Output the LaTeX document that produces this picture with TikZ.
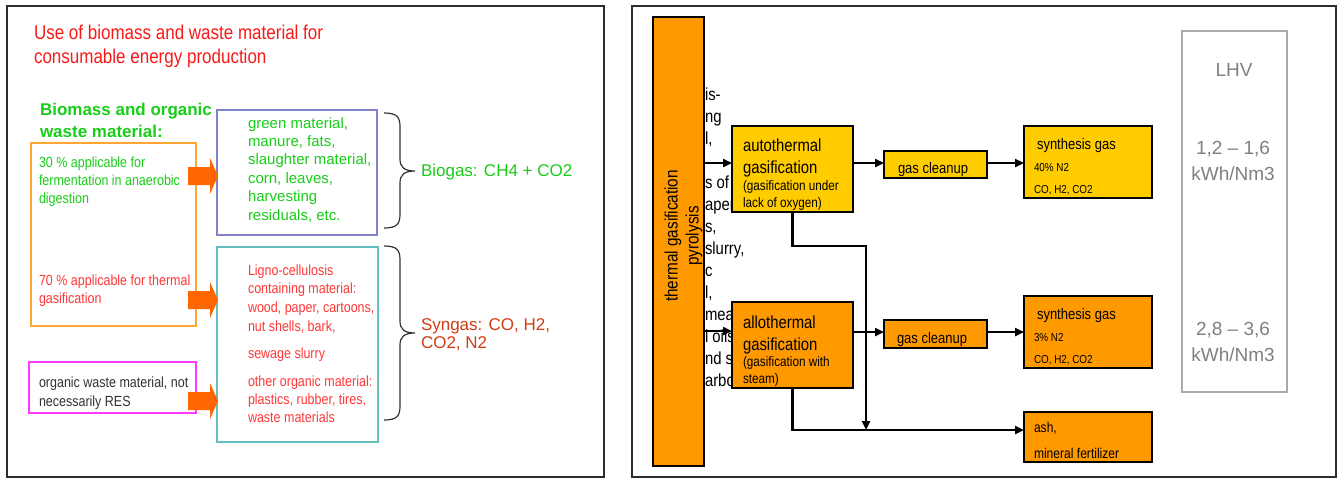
\documentclass[tikz,border=0pt]{standalone}
\usepackage{fontspec}
\setmainfont{Liberation Sans}
\newfontfamily\nar{Liberation Sans}[FakeStretch=0.85]
\usetikzlibrary{arrows.meta}
\newcommand\mlines[1]{\begin{tabular}[t]{@{}l@{}}#1\end{tabular}}
\newcommand\clines[1]{\begin{tabular}[t]{@{}c@{}}#1\end{tabular}}
\newcommand\fs[2]{\fontsize{#1}{#2}\selectfont}
\definecolor{titlered}{RGB}{250,25,25}
\definecolor{bgreen}{RGB}{25,205,25}
\definecolor{lred}{RGB}{255,55,55}
\definecolor{synred}{RGB}{210,60,20}
\definecolor{dgray}{RGB}{50,50,50}
\definecolor{obord}{RGB}{255,165,50}
\definecolor{bbord}{RGB}{130,130,200}
\definecolor{tbord}{RGB}{100,190,190}
\definecolor{pbord}{RGB}{255,60,255}
\definecolor{arrfill}{RGB}{255,102,0}
\definecolor{barorange}{RGB}{255,153,0}
\definecolor{baryellow}{RGB}{255,204,0}
\definecolor{lhvbord}{RGB}{170,170,170}
\definecolor{lhvtext}{RGB}{128,128,128}
\definecolor{framec}{RGB}{45,45,45}
\newcommand\blockarrow[1]{\fill[arrfill] (188,#1-9) -- (210,#1-9) -- (210,#1-18) -- (218,#1) -- (210,#1+18) -- (210,#1+9) -- (188,#1+9) -- cycle;}
\newcommand\bracepath[3]{\draw[bracestyle] (384,#1) .. controls (397,#1) and (400,#1+4) .. (400,#1+14) -- (400,#3-12) .. controls (400,#3-4) and (404,#3) .. (415,#3) .. controls (404,#3) and (400,#3+4) .. (400,#3+12) -- (400,#2-14) .. controls (400,#2-4) and (397,#2) .. (384,#2);}
\begin{document}
\begin{tikzpicture}[x=1pt,y=-1pt,
  txt/.style={anchor=base west, inner sep=0pt, outer sep=0pt},
  box/.style={anchor=north west, inner sep=0pt, outer sep=0pt, draw, line width=1.2pt},
  frame/.style={anchor=north west, inner sep=0pt, outer sep=0pt, draw=framec, line width=1.8pt},
  flow/.style={box, draw=black, line width=1.4pt},
  arr/.style={line width=2.4pt, -{Triangle[length=9pt,width=8pt]}},
  bracestyle/.style={draw=dgray, line width=1.2pt}]
\useasboundingbox (0,0) rectangle (1341,479);
\fill[white] (0,0) rectangle (1341,479);
% ---------- left panel ----------
\node[frame, minimum width=597pt, minimum height=471pt] (lframe) at (7,6) {};
\node[txt, font=\nar\fs{20}{24}, text=titlered] (title) at (34,39.6) {\mlines{Use of biomass and waste material for\\consumable energy production}};
\node[txt, font=\bfseries\fs{17}{22}, text=bgreen] (head) at (40,115.6) {\mlines{Biomass and organic\\waste material:}};
\node[box, draw=obord, minimum width=165pt, minimum height=183pt] (obox) at (31,143) {};
\node[box, draw=bbord, minimum width=160pt, minimum height=125pt] (bbox) at (217,110) {};
\node[box, draw=tbord, minimum width=161pt, minimum height=195pt] (tbox) at (217,247) {};
\node[box, draw=pbord, minimum width=167pt, minimum height=51pt] (pbox) at (29,362) {};
\node[txt, font=\nar\fs{14.7}{18}, text=bgreen] (t30) at (39,167) {\mlines{30 \% applicable for\\fermentation in anaerobic\\digestion}};
\node[txt, font=\nar\fs{14.7}{18}, text=lred] (t70) at (39,285) {\mlines{70 \% applicable for thermal\\gasification}};
\node[txt, font=\nar\fs{14.7}{19}, text=dgray] (tpink) at (39,387) {\mlines{organic waste material, not\\necessarily RES}};
\node[txt, font=\fs{15}{18.4}, text=bgreen] (tblue) at (248,128) {\mlines{green material,\\manure, fats,\\slaughter material,\\corn, leaves,\\harvesting\\residuals, etc.}};
\node[txt, font=\nar\fs{14.7}{18.7}, text=lred] (tl1) at (248,275) {\mlines{Ligno-cellulosis\\containing material:\\wood, paper, cartoons,\\nut shells, bark,}};
\node[txt, font=\nar\fs{14.7}{18}, text=lred] (tl2) at (248,358) {sewage slurry};
\node[txt, font=\nar\fs{14.7}{18}, text=lred] (tl3) at (248,386) {\mlines{other organic material:\\plastics, rubber, tires,\\waste materials}};
\blockarrow{176}
\blockarrow{300}
\blockarrow{401}
\bracepath{113}{228}{171}
\bracepath{246}{420}{333}
\node[txt, font=\fs{17}{20}, text=bgreen] (biogas) at (421,176.6) {Biogas: CH4 + CO2};
\node[txt, font=\fs{17}{18.5}, text=synred] (syngas) at (421,330) {\mlines{Syngas: CO, H2,\\CO2, N2}};
% ---------- right panel ----------
\node[frame, minimum width=704pt, minimum height=471pt] (rframe) at (632,6) {};
\node[txt, font=\nar\fs{17.5}{22}, text=black] (frag) at (705,100.8) {\mlines{is-\\ng\\l,\\ \\s of\\aper\\s,\\slurry,\\c\\l,\\mea\\l oils\\nd s\\arbo}};
\node[flow, fill=barorange, minimum width=51pt, minimum height=449pt] (bar) at (653,17) {};
\node[font=\nar\fs{18}{21}, rotate=90, align=center, inner sep=0pt] (bartxt) at (683.5,236) {thermal gasification\\pyrolysis};
\node[flow, fill=baryellow, minimum width=121pt, minimum height=86pt] (auto) at (732,126) {};
\node[flow, fill=barorange, minimum width=121pt, minimum height=86pt] (allo) at (732,302) {};
\node[flow, fill=baryellow, minimum width=103pt, minimum height=27pt] (clean1) at (884,151) {};
\node[flow, fill=barorange, minimum width=103pt, minimum height=28pt] (clean2) at (884,320) {};
\node[flow, fill=baryellow, minimum width=128pt, minimum height=72pt] (syn1) at (1024,126) {};
\node[flow, fill=barorange, minimum width=128pt, minimum height=72pt] (syn2) at (1024,296) {};
\node[flow, fill=barorange, minimum width=128pt, minimum height=50pt] (ash) at (1024,412) {};
\node[box, draw=lhvbord, minimum width=105pt, minimum height=361pt] (lhvbox) at (1182,31) {};
% texts in flow boxes
\node[txt, font=\nar\fs{17.5}{22}] (autot) at (743,151) {\mlines{autothermal\\gasification}};
\node[txt, font=\nar\fs{13.8}{17}] (autos) at (743,190.6) {\mlines{(gasification under\\lack of oxygen)}};
\node[txt, font=\nar\fs{17.5}{22}] (allot) at (743,328) {\mlines{allothermal\\gasification}};
\node[txt, font=\nar\fs{13.8}{17}] (allos) at (743,366.6) {\mlines{(gasification with\\steam)}};
\node[txt, font=\nar\fs{15.3}{18}] (c1t) at (898,173) {gas cleanup};
\node[txt, font=\nar\fs{15.3}{18}] (c2t) at (897,343) {gas cleanup};
\node[txt, font=\nar\fs{15.3}{18}] (s1a) at (1037,149) {synthesis gas};
\node[txt, font=\nar\fs{11.6}{22}] (s1b) at (1034,171) {\mlines{40\% N2\\CO, H2, CO2}};
\node[txt, font=\nar\fs{15.3}{18}] (s2a) at (1037,319) {synthesis gas};
\node[txt, font=\nar\fs{11.6}{22}] (s2b) at (1034,341) {\mlines{3\% N2\\CO, H2, CO2}};
\node[txt, font=\nar\fs{14.2}{26}] (asht) at (1034,432) {\mlines{ash,\\mineral fertilizer}};
\node[anchor=base, inner sep=0pt, font=\fs{19}{22}, text=lhvtext] (lhv) at (1234,76) {LHV};
\node[anchor=base, inner sep=0pt, font=\fs{19}{26}, text=lhvtext] (v1) at (1233,154.5) {\clines{1,2 – 1,6\\kWh/Nm3}};
\node[anchor=base, inner sep=0pt, font=\fs{19}{26}, text=lhvtext] (v2) at (1233,335.5) {\clines{2,8 – 3,6\\kWh/Nm3}};
% connectors
\draw[arr] (bar.east |- 0,163) -- (auto.west |- 0,163);
\draw[arr] (auto.east |- 0,163) -- (clean1.west |- 0,163);
\draw[arr] (clean1.east |- 0,163) -- (syn1.west |- 0,163);
\draw[arr] (bar.east |- 0,331) -- (allo.west |- 0,331);
\draw[arr] (allo.east |- 0,332) -- (clean2.west |- 0,332);
\draw[arr] (clean2.east |- 0,332) -- (syn2.west |- 0,332);
\coordinate (jn) at (866,430);
\draw[arr] (auto.south) -- (auto.south |- 0,246) -- (866,246) -- (jn);
\draw[arr] (allo.south) |- (ash.west |- jn);
\end{tikzpicture}
\end{document}
